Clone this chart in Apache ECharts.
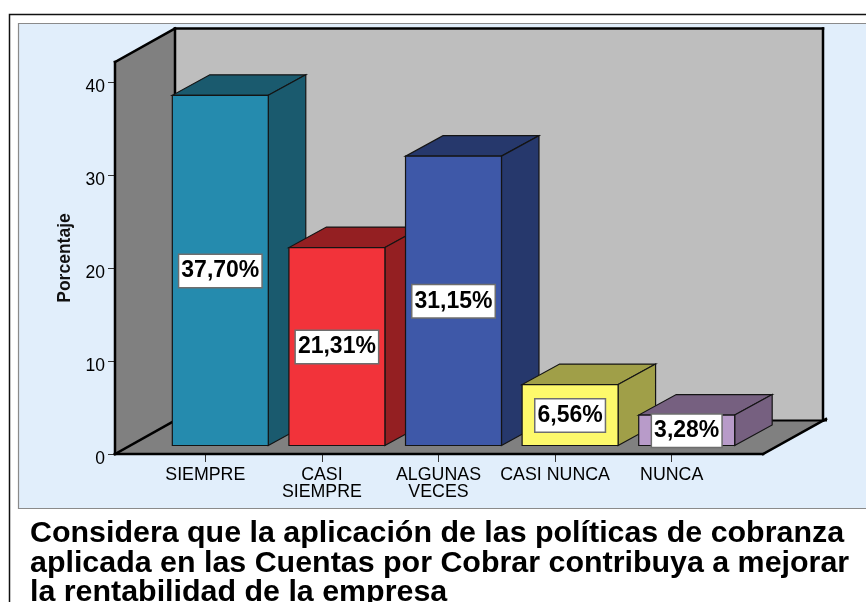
<!DOCTYPE html>
<html>
<head>
<meta charset="utf-8">
<style>html,body{margin:0;padding:0;background:#fff;overflow:hidden}#c{width:866px;height:602px}</style>
<script src="https://cdn.jsdelivr.net/npm/echarts@6/dist/echarts.min.js"></script>
</head>
<body>
<div id="c"></div>
<script>
const categories = ['SIEMPRE', 'CASI\nSIEMPRE', 'ALGUNAS\nVECES', 'CASI NUNCA', 'NUNCA'];
const values = [37.70, 21.31, 31.15, 6.56, 3.28];
const valueLabels = ['37,70%', '21,31%', '31,15%', '6,56%', '3,28%'];
const frontColors = ['#258BAE', '#F2333A', '#3E58A8', '#FDF96B', '#B89BC9'];
const sideColors = ['#1A5A6E', '#941F22', '#26386C', '#A09F48', '#766080'];
const yTicks = [0, 10, 20, 30, 40];
const yMax = 42.2;
const titleText = 'Considera que la aplicación de las políticas de cobranza\naplicada en las Cuentas por Cobrar contribuya a mejorar\nla rentabilidad de la empresa';

const font = '"Liberation Sans", Arial, sans-serif';
const wallDX = 60, wallDY = 33.5, padL = 32, padR = 33;
const barInsetX = 15, barInsetY = 8.5, barDX = 37.5, barDY = 20.5;
const edge = '#141414';

function poly(points, fill, stroke, lw) {
  return {type: 'polygon', shape: {points}, style: {fill, stroke: stroke || 'none', lineWidth: lw || 0, lineJoin: 'miter'}};
}
function seg(a, b, lw) {
  return {type: 'line', shape: {x1: a[0], y1: a[1], x2: b[0], y2: b[1]}, style: {stroke: '#000', lineWidth: lw, lineCap: 'square'}};
}

function renderWalls(params, api) {
  const band = api.size([1, 0])[0];
  const x0 = api.coord([0, 0])[0] - band / 2 - padL;
  const x1 = api.coord([categories.length - 1, 0])[0] + band / 2 + padR;
  const yb = api.coord([0, 0])[1];
  const yt = api.coord([0, yMax])[1];
  const A = [x0, yb], B = [x1, yb], C = [x0, yt];
  const A2 = [x0 + wallDX, yb - wallDY], B2 = [x1 + wallDX, yb - wallDY], C2 = [x0 + wallDX, yt - wallDY], D2 = [x1 + wallDX, yt - wallDY];
  return {type: 'group', children: [
    poly([A2, B2, D2, C2], '#BEBEBE'),
    poly([A, A2, C2, C], '#808080'),
    poly([A, B, B2, A2], '#808080'),
    seg(C2, D2, 2.5), seg(D2, B2, 2.5), seg(A2, [B2[0] + 3, B2[1]], 2), seg(C2, A2, 2.5),
    seg(C, C2, 2.5), seg(C, A, 2.5), seg(A, A2, 2.5),
    seg(A, B, 2.5), seg(B, [B2[0] + 3, B2[1] - 1.5], 2.5)
  ]};
}

function renderBar(params, api) {
  const i = api.value(0);
  const band = api.size([1, 0])[0];
  const w = band * 0.823;
  const c0 = api.coord([i, 0]);
  const c1 = api.coord([i, api.value(1)]);
  const xl = c0[0] + barInsetX - w / 2, xr = xl + w;
  const yb = c0[1] - barInsetY, yt = c1[1] - barInsetY;
  const front = frontColors[i], side = sideColors[i];
  return {type: 'group', children: [
    poly([[xl, yt], [xr, yt], [xr + barDX, yt - barDY], [xl + barDX, yt - barDY]], side, edge, 1.2),
    poly([[xr, yt], [xr, yb], [xr + barDX, yb - barDY], [xr + barDX, yt - barDY]], side, edge, 1.2),
    poly([[xl, yt], [xr, yt], [xr, yb], [xl, yb]], front, edge, 1.2),
    {type: 'text', z2: 10, style: {
      text: valueLabels[i], x: (xl + xr) / 2, y: (yt + yb) / 2 + 0.5, align: 'center', verticalAlign: 'middle',
      font: 'bold 23px ' + font, fill: '#000', backgroundColor: '#fff',
      borderColor: '#6E6E6E', borderWidth: 1.5, padding: [6, 2, 3, 2]
    }}
  ]};
}

const chart = echarts.init(document.getElementById('c'), null, {renderer: 'canvas', width: 866, height: 602});
chart.setOption({
  animation: false,
  backgroundColor: '#fff',
  title: {
    text: titleText, left: 25, top: 514, itemGap: 0,
    textStyle: {fontFamily: font, fontWeight: 'bold', fontSize: 30.4, lineHeight: 29.5, color: '#000'}
  },
  graphic: {elements: [
    {type: 'rect', z: -2, shape: {x: 9.5, y: 14.5, width: 900, height: 700}, style: {fill: '#fff', stroke: '#111', lineWidth: 1.5}},
    {type: 'rect', z: -1, shape: {x: 18.5, y: 23.5, width: 900, height: 485}, style: {fill: '#E1EEFB', stroke: '#8A8A8A', lineWidth: 1.2}}
  ]},
  grid: {left: 147, right: 136, top: 62, bottom: 148},
  xAxis: {
    type: 'category', data: categories,
    axisLine: {show: false},
    axisTick: {show: true, alignWithLabel: true, length: 8, lineStyle: {color: '#333', width: 1}},
    axisLabel: {fontFamily: font, fontSize: 17.8, lineHeight: 17.7, color: '#000', margin: 12, interval: 0}
  },
  yAxis: {
    type: 'value', min: 0, max: yMax, interval: 10, offset: 32,
    name: 'Porcentaje', nameLocation: 'middle', nameGap: 39, nameRotate: 90,
    nameTextStyle: {fontFamily: font, fontSize: 17.5, fontWeight: 'bold', color: '#111'},
    splitLine: {show: false},
    axisLine: {show: false},
    axisTick: {show: true, length: 7, customValues: yTicks, lineStyle: {color: '#333', width: 1}},
    axisLabel: {
      color: '#000', margin: 10, customValues: yTicks,
      formatter: '{n|{value}}',
      rich: {n: {fontFamily: font, fontSize: 17.5, color: '#000', padding: [10, 0, 0, 0]}}
    }
  },
  series: [
    {type: 'custom', z: 1, silent: true, clip: false, renderItem: renderWalls, data: [[0, 0]], encode: {x: 0, y: 1}},
    {type: 'custom', z: 2, silent: true, clip: false, renderItem: renderBar, data: values.map((v, i) => [i, v]), encode: {x: 0, y: 1}}
  ]
});
</script>
</body>
</html>
